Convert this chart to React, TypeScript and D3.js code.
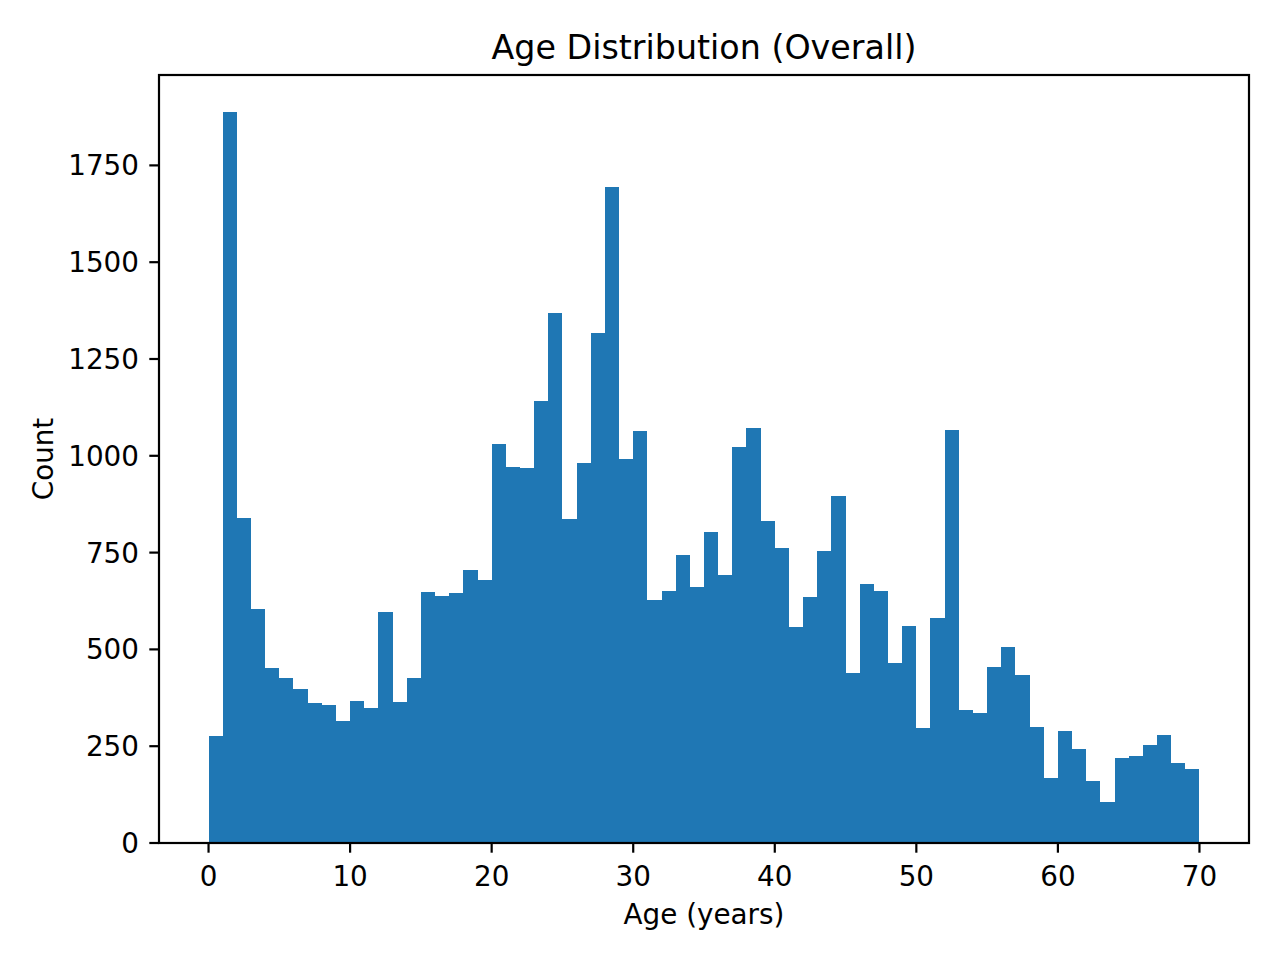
import React from "react";
import * as d3 from "d3";

const binEdges: number[] = Array.from({ length: 71 }, (_, i) => i);
const counts: number[] = [
  276, 1889, 839, 604, 452, 426, 397, 361, 356, 315,
  366, 348, 596, 364, 426, 648, 637, 645, 705, 679,
  1030, 970, 968, 1141, 1368, 836, 981, 1316, 1693, 991,
  1063, 627, 650, 743, 661, 803, 692, 1022, 1071, 831,
  761, 557, 635, 754, 896, 439, 668, 650, 465, 560,
  297, 581, 1066, 343, 336, 454, 506, 434, 299, 168,
  289, 243, 160, 106, 219, 225, 253, 279, 206, 191,
];
const xTicks: number[] = [0, 10, 20, 30, 40, 50, 60, 70];
const yTicks: number[] = [0, 250, 500, 750, 1000, 1250, 1500, 1750];
const title = "Age Distribution (Overall)";
const xLabel = "Age (years)";
const yLabel = "Count";

export default function App() {
  const W = 1280, H = 960;
  const left = 159, right = 1249, top = 75, bottom = 843;
  const x0 = binEdges[0], x1 = binEdges[binEdges.length - 1];
  const pad = (x1 - x0) * 0.05;
  const x = d3.scaleLinear().domain([x0 - pad, x1 + pad]).range([left, right]);
  const yMax = (d3.max(counts) as number) * 1.05;
  const y = d3.scaleLinear().domain([0, yMax]).range([bottom, top]);
  const fs = 27.8;
  const tickLen = 9.7;
  const font = "DejaVu Sans, sans-serif";
  return (
    <svg width={W} height={H} style={{ position: "absolute", left: 0, top: 0, background: "#fff" }}
      fontFamily={font}>
      <rect x={0} y={0} width={W} height={H} fill="#fff" />
      <g shapeRendering="crispEdges">
        {counts.map((c, i) => (
          <rect key={i} x={x(binEdges[i])} y={y(c)} width={x(binEdges[i + 1]) - x(binEdges[i])}
            height={y(0) - y(c)} fill="#1f77b4" />
        ))}
      </g>
      <rect x={left} y={top} width={right - left} height={bottom - top} fill="none" stroke="#000" strokeWidth={2.2} />
      {xTicks.map((t) => (
        <g key={"x" + t}>
          <line x1={x(t)} x2={x(t)} y1={bottom} y2={bottom + tickLen} stroke="#000" strokeWidth={2.2} />
          <text x={x(t)} y={886} fontSize={fs} textAnchor="middle" fill="#000">{t}</text>
        </g>
      ))}
      {yTicks.map((t) => (
        <g key={"y" + t}>
          <line x1={left - tickLen} x2={left} y1={y(t)} y2={y(t)} stroke="#000" strokeWidth={2.2} />
          <text x={139} y={y(t) + 0.36 * fs} fontSize={fs} textAnchor="end" fill="#000">{t}</text>
        </g>
      ))}
      <text x={(left + right) / 2} y={59} fontSize={33.3} textAnchor="middle" fill="#000">{title}</text>
      <text x={(left + right) / 2} y={924} fontSize={fs} textAnchor="middle" fill="#000">{xLabel}</text>
      <text transform={`translate(53,${(top + bottom) / 2}) rotate(-90)`} fontSize={fs} textAnchor="middle" fill="#000">{yLabel}</text>
    </svg>
  );
}
